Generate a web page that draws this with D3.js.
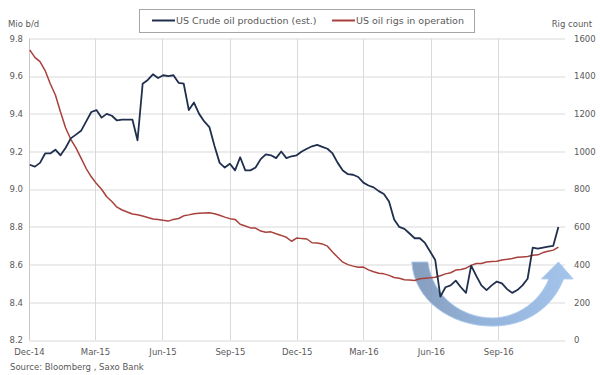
<!doctype html>
<html>

<head>
  <meta charset="utf8"/>
  <style>
    body { margin: 0; background: #fff; }
    text { font-family: 'DejaVu Sans', sans-serif; fill: #595959; }
  </style>
</head>

<body>
  <svg width='600' height='375'></svg>
  <script src="https://cdn.jsdelivr.net/npm/d3@7"></script>

  <script>

    // weekly series, first week starting 2 Dec 2014
    var firstWeek = new Date(2014, 11, 2);

    // US crude oil production, million barrels per day (left axis)
    var production = [
      9.13, 9.12, 9.14, 9.19, 9.19, 9.21, 9.18, 9.22, 9.27, 9.29,
      9.31, 9.36, 9.41, 9.42, 9.38, 9.40, 9.39, 9.365, 9.37, 9.37,
      9.37, 9.26, 9.56, 9.58, 9.61, 9.59, 9.605, 9.60, 9.605, 9.565,
      9.56, 9.42, 9.46, 9.40, 9.36, 9.33, 9.23, 9.14, 9.115, 9.135,
      9.10, 9.17, 9.10, 9.10, 9.115, 9.16, 9.185, 9.18, 9.165, 9.20,
      9.165, 9.175, 9.18, 9.20, 9.215, 9.228, 9.235, 9.225, 9.215, 9.19,
      9.14, 9.10, 9.08, 9.077, 9.065, 9.035, 9.02, 9.01, 8.99, 8.975,
      8.935, 8.84, 8.80, 8.79, 8.765, 8.74, 8.74, 8.715, 8.67, 8.625,
      8.43, 8.48, 8.49, 8.515, 8.48, 8.45, 8.595, 8.54, 8.49, 8.465,
      8.49, 8.51, 8.50, 8.47, 8.45, 8.465, 8.49, 8.525, 8.69, 8.685,
      8.69, 8.695, 8.70, 8.80
    ];

    // US oil rigs in operation (right axis)
    var rigs = [
      1540, 1500, 1477, 1430, 1360, 1300, 1210, 1125, 1065, 1020,
      965, 910, 866, 830, 800, 760, 735, 705, 690, 679,
      669, 665, 658, 650, 642, 640, 635, 631, 640, 645,
      659, 664, 670, 672, 674, 675, 670, 662, 652, 644,
      640, 614, 605, 595, 594, 578, 572, 574, 564, 555,
      545, 524, 541, 538, 536, 516, 515, 510, 498, 467,
      439, 413, 400, 392, 386, 387, 372, 362, 354, 351,
      343, 332, 328, 320, 318, 316, 325, 328, 330, 333,
      341, 351, 357, 371, 374, 381, 396, 406, 406, 414,
      416, 418, 425, 428, 432, 439, 441, 443, 450, 452,
      464, 471, 477, 493
    ];

    var leftTicks = [8.2, 8.4, 8.6, 8.8, 9.0, 9.2, 9.4, 9.6, 9.8];
    var rightTicks = [0, 200, 400, 600, 800, 1000, 1200, 1400, 1600];
    var seriesNames = ['US Crude oil production (est.)', 'US oil rigs in operation'];
    var seriesColors = ['#1f2f4d', '#a8403b'];

    // decorative curved arrow, points given as [date, rig count]
    var arrowShape = [
      ['M', '2016-05-06', 414],
      ['C', '2016-05-09', 212, '2016-06-28', 74, '2016-08-24', 74],
      ['C', '2016-10-08', 74, '2016-11-14', 170, '2016-11-29', 324],
      ['L', '2016-12-12', 324],
      ['L', '2016-11-22', 414],
      ['L', '2016-10-30', 324],
      ['L', '2016-11-09', 324],
      ['C', '2016-10-29', 212, '2016-09-28', 117, '2016-08-24', 117],
      ['C', '2016-07-15', 117, '2016-06-04', 223, '2016-05-28', 414],
      ['Z']
    ];

    var data = production.map(function(v, i) {
      return {date: d3.timeDay.offset(firstWeek, 7 * i), prod: v, rigs: rigs[i]};
    });

    var svg = d3.select('svg'),
        margin = {top: 38.5, right: 35, bottom: 35, left: 29},
        width = +svg.attr('width') - margin.left - margin.right,
        height = +svg.attr('height') - margin.top - margin.bottom,
        g = svg.append('g').attr('transform',
                                 'translate(' + margin.left + ',' + margin.top + ')');

    var x = d3.scaleTime()
              .domain([new Date(2014, 11, 1), new Date(2016, 11, 1)])
              .range([0, width]);
    var yL = d3.scaleLinear().domain([8.2, 9.8]).range([height, 0]);
    var yR = d3.scaleLinear().domain([0, 1600]).range([height, 0]);

    var quarterTicks = d3.timeMonth.range(new Date(2014, 11, 1), new Date(2016, 11, 1), 3);

    // gridlines
    g.append('g')
       .selectAll('line')
       .data(leftTicks)
       .join('line')
       .attr('x1', 0).attr('x2', width)
       .attr('y1', function(d) { return Math.round(yL(d)) + 0.5; })
       .attr('y2', function(d) { return Math.round(yL(d)) + 0.5; })
       .attr('stroke', '#d9d9d9');
    g.append('g')
       .selectAll('line')
       .data(quarterTicks)
       .join('line')
       .attr('x1', function(d) { return Math.round(x(d)) + 0.5; })
       .attr('x2', function(d) { return Math.round(x(d)) + 0.5; })
       .attr('y1', 0).attr('y2', height)
       .attr('stroke', '#d9d9d9');

    // axes
    var ax = g.append('g')
       .attr('transform', 'translate(0,' + height + ')')
       .call(d3.axisBottom(x).tickValues(quarterTicks)
               .tickFormat(d3.timeFormat('%b-%y')).tickSize(0).tickPadding(9));
    ax.select('.domain').remove();

    var al = g.append('g')
       .call(d3.axisLeft(yL).tickValues(leftTicks)
               .tickFormat(d3.format('.1f')).tickSize(0).tickPadding(6));
    al.select('.domain').remove();

    var ar = g.append('g')
       .attr('transform', 'translate(' + width + ',0)')
       .call(d3.axisRight(yR).tickValues(rightTicks)
               .tickFormat(d3.format('d')).tickSize(0).tickPadding(9));
    ar.select('.domain').remove();

    svg.selectAll('.tick text').attr('font-size', 8.5).attr('fill', '#595959')
       .style('font-family', "'DejaVu Sans', sans-serif");

    g.append('line')
       .attr('x1', 0.5).attr('x2', 0.5).attr('y1', 0).attr('y2', height)
       .attr('stroke', '#c8c8c8');

    // arrow
    var parseDay = d3.timeParse('%Y-%m-%d');
    var arrowPath = arrowShape.map(function(seg) {
      var s = seg[0];
      for (var k = 1; k < seg.length; k += 2) {
        s += (k > 1 ? ',' : '') + x(parseDay(seg[k])).toFixed(1) + ',' + yR(seg[k + 1]).toFixed(1);
      }
      return s;
    }).join(' ');

    var grad = svg.append('defs').append('linearGradient')
       .attr('id', 'arrowGrad').attr('x1', '0%').attr('x2', '100%');
    grad.append('stop').attr('offset', '0%').attr('stop-color', '#8099b9');
    grad.append('stop').attr('offset', '45%').attr('stop-color', '#8fb0da');
    grad.append('stop').attr('offset', '100%').attr('stop-color', '#9fc1ea');

    g.append('path')
     .attr('d', arrowPath)
     .attr('fill', 'url(#arrowGrad)')
     .attr('stroke', '#aac8ee')
     .attr('stroke-width', 1)
     .attr('opacity', 0.95);

    // lines
    var prodLine = d3.line()
                     .x(function(d) { return x(d.date); })
                     .y(function(d) { return yL(d.prod); });
    var rigLine = d3.line()
                    .x(function(d) { return x(d.date); })
                    .y(function(d) { return yR(d.rigs); });

    g.append('path')
     .datum(data)
     .attr('fill', 'none')
     .attr('stroke', seriesColors[1])
     .attr('stroke-width', 1.5)
     .attr('stroke-linejoin', 'round')
     .attr('d', rigLine);

    g.append('path')
     .datum(data)
     .attr('fill', 'none')
     .attr('stroke', seriesColors[0])
     .attr('stroke-width', 1.8)
     .attr('stroke-linejoin', 'round')
     .attr('d', prodLine);

    // axis titles
    svg.append('text').attr('x', 8).attr('y', 27).attr('font-size', 8.5).text('Mio b/d');
    svg.append('text').attr('x', 592).attr('y', 27).attr('font-size', 8.5)
       .attr('text-anchor', 'end').text('Rig count');

    // legend
    var legend = svg.append('g');
    legend.append('rect')
       .attr('x', 139.5).attr('y', 9.5).attr('width', 335).attr('height', 23)
       .attr('fill', '#fff').attr('stroke', '#a6a6a6');
    var legendX = [152, 332];
    seriesNames.forEach(function(name, i) {
      legend.append('line')
         .attr('x1', legendX[i]).attr('x2', legendX[i] + 23)
         .attr('y1', 20.5).attr('y2', 20.5)
         .attr('stroke', seriesColors[i]).attr('stroke-width', 2);
      legend.append('text')
         .attr('x', legendX[i] + 24).attr('y', 24)
         .attr('font-size', 9.5).attr('fill', '#404040')
         .text(name);
    });

    svg.append('text').attr('x', 10).attr('y', 370).attr('font-size', 8.5)
       .attr('fill', '#404040').text('Source: Bloomberg , Saxo Bank');
  </script>
</body>

</html>
